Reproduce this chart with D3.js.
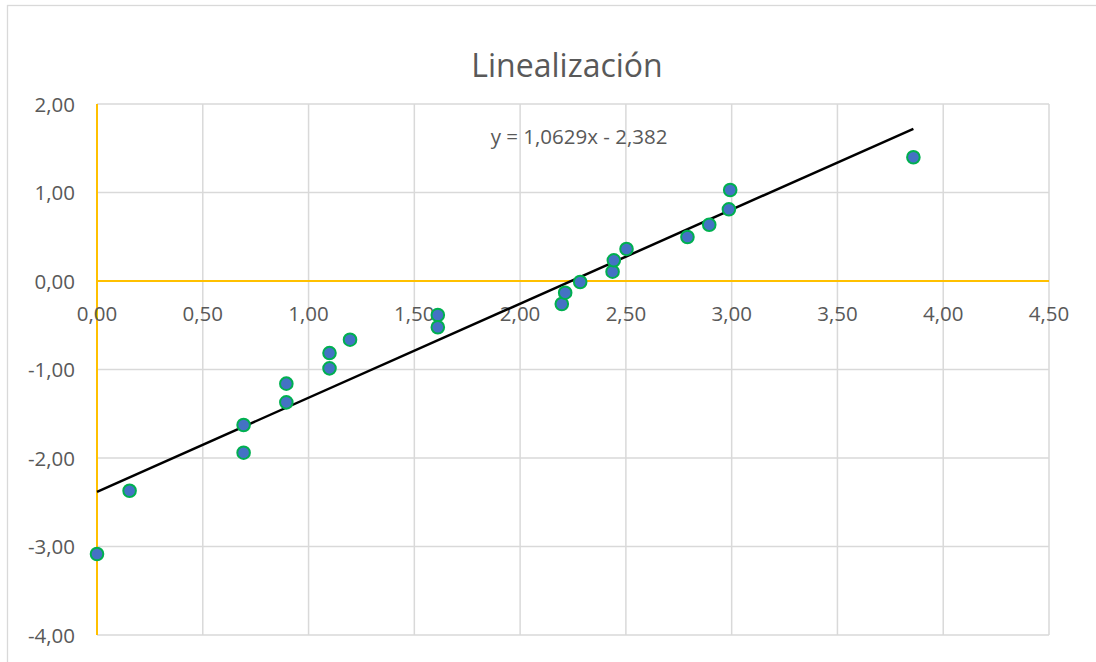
<!DOCTYPE html>
<html>
<head>
<meta charset="utf-8">
<script src="https://cdn.jsdelivr.net/npm/d3@7"></script>
<style>
  html, body { margin: 0; padding: 0; background: #fff; }
  svg { display: block; }
  text { font-family: "Open Sans", sans-serif; fill: #595959; }
</style>
</head>
<body>
<svg id="chart" width="1096" height="662"></svg>
<script>
const title = "Linealización";
const equationLabel = "y = 1,0629x - 2,382";
const slope = 1.0629;
const intercept = -2.382;

const xValues = [0.000, 0.154, 0.693, 0.693, 0.895, 0.895, 1.099, 1.099, 1.196, 1.611, 1.611,
                 2.197, 2.213, 2.284, 2.437, 2.443, 2.503, 2.791, 2.894, 2.987, 2.993, 3.859];
const yValues = [-3.085, -2.370, -1.627, -1.940, -1.160, -1.371, -0.814, -0.987, -0.663, -0.384, -0.523,
                 -0.260, -0.132, -0.011, 0.105, 0.234, 0.362, 0.497, 0.636, 0.810, 1.028, 1.398];

const xTicks = [0, 0.5, 1, 1.5, 2, 2.5, 3, 3.5, 4, 4.5];
const yTicks = [2, 1, 0, -1, -2, -3, -4];

const fmt = v => v.toFixed(2).replace(".", ",");

const svg = d3.select("#chart");
const W = 1096, H = 662;
const plot = { left: 97, right: 1049, top: 104, bottom: 635 };

// outer chart border
svg.append("rect")
  .attr("x", 7.5).attr("y", 5.5)
  .attr("width", W + 20).attr("height", H + 20)
  .attr("fill", "#fff").attr("stroke", "#d9d9d9").attr("stroke-width", 1.3);

const x = d3.scaleLinear().domain([0, 4.5]).range([plot.left, plot.right]);
const y = d3.scaleLinear().domain([-4, 2]).range([plot.bottom, plot.top]);

// gridlines
svg.append("g").selectAll("line.v").data(xTicks.filter(d => d !== 0)).join("line")
  .attr("x1", d => x(d)).attr("x2", d => x(d))
  .attr("y1", plot.top).attr("y2", plot.bottom)
  .attr("stroke", "#d9d9d9").attr("stroke-width", 1.5);
svg.append("g").selectAll("line.h").data(yTicks.filter(d => d !== 0)).join("line")
  .attr("x1", plot.left).attr("x2", plot.right)
  .attr("y1", d => y(d)).attr("y2", d => y(d))
  .attr("stroke", "#d9d9d9").attr("stroke-width", 1.5);

// axes lines (orange)
svg.append("line")
  .attr("x1", plot.left).attr("x2", plot.right)
  .attr("y1", y(0)).attr("y2", y(0))
  .attr("stroke", "#FFC000").attr("stroke-width", 2);
svg.append("line")
  .attr("x1", x(0)).attr("x2", x(0))
  .attr("y1", plot.top).attr("y2", plot.bottom)
  .attr("stroke", "#FFC000").attr("stroke-width", 2);

// tick labels
svg.append("g").selectAll("text").data(yTicks).join("text")
  .attr("x", 75).attr("y", d => y(d) + 7.5)
  .attr("text-anchor", "end")
  .attr("font-size", 20.5)
  .text(fmt);
svg.append("g").selectAll("text").data(xTicks).join("text")
  .attr("x", d => x(d)).attr("y", y(0) + 39.5)
  .attr("text-anchor", "middle")
  .attr("font-size", 20.5)
  .text(fmt);

// trendline
const xMax = d3.max(xValues), xMin = d3.min(xValues);
svg.append("line")
  .attr("x1", x(xMin)).attr("y1", y(slope * xMin + intercept))
  .attr("x2", x(xMax)).attr("y2", y(slope * xMax + intercept))
  .attr("stroke", "#000").attr("stroke-width", 2.5);

// points
const pts = xValues.map((v, i) => ({ x: v, y: yValues[i] }));
svg.append("g").selectAll("circle").data(pts).join("circle")
  .attr("cx", d => x(d.x)).attr("cy", d => y(d.y))
  .attr("r", 6.3)
  .attr("fill", "#4472C4")
  .attr("stroke", "#00B050").attr("stroke-width", 2);

// title
svg.append("text")
  .attr("x", 567).attr("y", 77)
  .attr("text-anchor", "middle")
  .attr("font-size", 32)
  .text(title);

// equation
svg.append("text")
  .attr("x", 579).attr("y", 144)
  .attr("text-anchor", "middle")
  .attr("font-size", 20.5)
  .text(equationLabel);
</script>
</body>
</html>
